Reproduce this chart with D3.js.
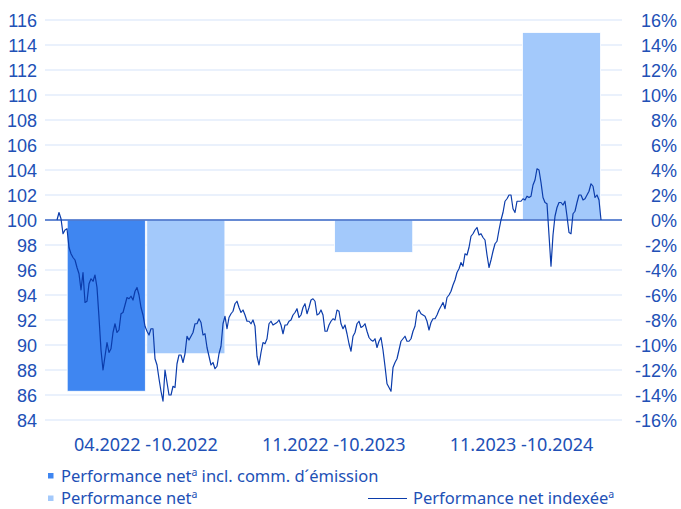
<!DOCTYPE html>
<html>
<head>
<meta charset="utf-8">
<script src="https://cdn.jsdelivr.net/npm/d3@7"></script>
<style>
  body { margin: 0; background: #fff; }
  svg { display: block; font-family: "Noto Sans", sans-serif; }
  .tick text { fill: #2150b6; font-size: 18px; }
</style>
</head>
<body>
<div id="chart"></div>
<script>
// periods and yearly performance (%)
const categories = ["04.2022 -10.2022", "11.2022 -10.2023", "11.2023 -10.2024"];
const perfInclComm = [-13.7, null, null];
const perfNet = [-10.7, -2.6, 15.0];

// indexed performance, start = 100 (roughly twice a week)
const indexValues = [
  100.0, 100.6, 100.1, 98.9, 99.2, 99.3, 97.8, 97.3, 97.0, 96.8,
  96.2, 95.7, 94.4, 95.8, 93.4, 93.5, 94.9, 95.3, 95.1, 95.6,
  94.6, 92.2, 89.6, 88.0, 89.1, 90.2, 89.4, 89.7, 91.0, 91.7,
  91.0, 91.2, 92.5, 92.6, 93.2, 93.8, 93.7, 93.9, 93.6, 94.3,
  94.6, 94.0, 93.0, 92.4, 91.5, 91.1, 90.8, 91.3, 91.3, 88.9,
  88.4, 87.3, 86.3, 85.5, 88.0, 87.0, 86.0, 86.0, 86.7, 86.6,
  88.5, 89.2, 89.2, 88.6, 89.3, 90.7, 90.4, 90.7, 91.0, 91.7,
  91.7, 92.1, 91.8, 90.8, 90.9, 89.8, 89.1, 88.4, 88.6, 88.1,
  88.3, 89.3, 89.9, 91.7, 92.3, 91.3, 92.2, 92.5, 92.7, 93.3,
  93.5, 93.0, 92.6, 92.8, 92.4, 91.9, 91.9, 91.7, 92.0, 91.5,
  89.1, 88.4, 89.4, 90.2, 90.1, 90.5, 91.7, 91.9, 91.6, 91.7,
  91.8, 92.0, 91.6, 90.9, 91.6, 91.6, 91.9, 92.0, 92.4, 92.6,
  92.9, 92.2, 92.4, 93.0, 93.3, 92.5, 93.0, 93.6, 93.7, 93.5,
  92.4, 92.5, 92.8, 92.4, 91.1, 91.1, 91.6, 91.9, 92.1, 92.0,
  92.8, 92.7, 91.7, 91.3, 91.6, 90.9, 90.1, 89.5, 90.7, 91.0,
  91.7, 91.9, 91.4, 91.5, 91.7, 91.1, 90.6, 90.4, 90.3, 90.5,
  89.8, 90.3, 90.6, 89.6, 88.3, 86.9, 86.6, 86.3, 88.2, 88.6,
  88.9, 89.6, 90.3, 90.5, 90.7, 90.3, 90.3, 90.5, 91.1, 91.5,
  92.6, 92.8, 92.5, 92.4, 92.3, 91.9, 91.2, 91.8, 92.1, 92.1,
  92.4, 92.8, 93.1, 93.4, 92.9, 93.8, 94.0, 94.3, 94.8, 95.2,
  95.8, 96.1, 96.6, 96.3, 97.3, 97.2, 97.8, 98.7, 98.9, 99.2,
  99.4, 98.8, 98.9, 98.6, 98.4, 97.2, 96.2, 96.8, 97.5, 98.1,
  98.3, 99.2, 100.0, 100.6, 101.5, 101.7, 102.0, 102.0, 100.9, 100.6,
  101.5, 101.5, 101.5, 101.7, 101.6, 101.9, 101.8, 101.9, 102.8, 103.2,
  104.1, 104.0, 103.0, 101.8, 101.4, 101.3, 98.8, 96.3, 98.8, 100.3,
  101.0, 101.4, 101.4, 101.2, 101.5, 100.3, 99.0, 98.9, 100.5, 100.7,
  101.4, 102.0, 102.0, 101.6, 101.7, 102.0, 102.3, 102.9, 102.7, 101.8,
  102.0, 101.6, 100.0
];

const leftTicks = [84, 86, 88, 90, 92, 94, 96, 98, 100, 102, 104, 106, 108, 110, 112, 114, 116];
const rightTicks = [-16, -14, -12, -10, -8, -6, -4, -2, 0, 2, 4, 6, 8, 10, 12, 14, 16];

const width = 681;
const height = 509;
const plotLeft = 45, plotRight = 622, plotTop = 20, plotBottom = 420;

const blueText = "#2150b6";
const darkBar = "#3f86f1";
const lightBar = "#a3c9fb";
const lineColor = "#0b3cab";

const svg = d3.select("#chart")
  .append("svg")
  .attr("width", width)
  .attr("height", height);

const yLeft = d3.scaleLinear().domain([84, 116]).range([plotBottom, plotTop]);
const yRight = d3.scaleLinear().domain([-16, 16]).range([plotBottom, plotTop]);

const x0 = d3.scaleBand().domain(categories).range([52, 615.5]);
const x1 = d3.scaleBand().domain(["incl", "net"]).range([15.2, 172.9]).paddingInner(0.018);
const xLine = d3.scaleLinear().domain([0, indexValues.length - 1]).range([57, 601]);

// Grid
svg.append("g")
  .selectAll("line")
  .data(leftTicks)
  .join("line")
  .attr("x1", plotLeft)
  .attr("x2", plotRight)
  .attr("y1", d => yLeft(d))
  .attr("y2", d => yLeft(d))
  .attr("stroke", "#e3edfb")
  .attr("stroke-width", 1.5);

// Bars
const barData = categories.flatMap((c, i) => [
  { cat: c, key: "incl", value: perfInclComm[i] },
  { cat: c, key: "net", value: perfNet[i] }
]).filter(d => d.value !== null);

svg.append("g")
  .selectAll("rect")
  .data(barData)
  .join("rect")
  .attr("x", d => x0(d.cat) + x1(d.key))
  .attr("width", x1.bandwidth())
  .attr("y", d => yRight(Math.max(0, d.value)))
  .attr("height", d => Math.abs(yRight(d.value) - yRight(0)))
  .attr("fill", d => d.key === "incl" ? darkBar : lightBar)
  .attr("stroke", "#fff")
  .attr("stroke-width", 0.8);

// Zero line
svg.append("line")
  .attr("x1", plotLeft)
  .attr("x2", plotRight)
  .attr("y1", yRight(0))
  .attr("y2", yRight(0))
  .attr("stroke", "#3a67c6")
  .attr("stroke-width", 1.5);

// Index line
const line = d3.line()
  .x((d, i) => xLine(i))
  .y(d => yLeft(d));

svg.append("path")
  .datum(indexValues)
  .attr("d", line)
  .attr("fill", "none")
  .attr("stroke", lineColor)
  .attr("stroke-width", 1.2)
  .attr("stroke-linejoin", "round");

// Axes
const leftAxis = svg.append("g")
  .attr("transform", `translate(${plotLeft},0)`)
  .call(d3.axisLeft(yLeft).tickValues(leftTicks).tickSize(0).tickPadding(8));
leftAxis.select(".domain").remove();
leftAxis.selectAll("text").attr("dy", "0.36em");

const rightAxis = svg.append("g")
  .attr("transform", "translate(677,0)")
  .call(d3.axisRight(yRight).tickValues(rightTicks).tickSize(0).tickFormat(d => d + "%"));
rightAxis.select(".domain").remove();
rightAxis.selectAll("text")
  .attr("x", 0)
  .attr("text-anchor", "end")
  .attr("dy", "0.36em");

// Category labels
svg.append("g")
  .selectAll("text")
  .data(categories)
  .join("text")
  .attr("x", d => x0(d) + x0.bandwidth() / 2)
  .attr("y", 451)
  .attr("text-anchor", "middle")
  .attr("fill", blueText)
  .style("font-size", "18px")
  .text(d => d);

// Legend
const legend = svg.append("g").attr("fill", blueText).style("font-size", "16.5px");

function legendLabel(x, y, main, rest) {
  const t = legend.append("text").attr("x", x).attr("y", y);
  t.append("tspan").text(main);
  t.append("tspan").attr("dy", -6).style("font-size", "10.5px").text("a");
  if (rest) t.append("tspan").attr("dy", 6).text(rest);
}

legend.append("rect").attr("x", 48).attr("y", 473).attr("width", 5.5).attr("height", 5.5).attr("fill", darkBar);
legendLabel(61, 481.5, "Performance net", " incl. comm. d´émission");

legend.append("rect").attr("x", 48).attr("y", 495.5).attr("width", 5.5).attr("height", 5.5).attr("fill", lightBar);
legendLabel(61, 504, "Performance net", null);

legend.append("line")
  .attr("x1", 368).attr("x2", 407)
  .attr("y1", 498.5).attr("y2", 498.5)
  .attr("stroke", lineColor)
  .attr("stroke-width", 1.2);
legendLabel(413, 504, "Performance net indexée", null);
</script>
</body>
</html>
